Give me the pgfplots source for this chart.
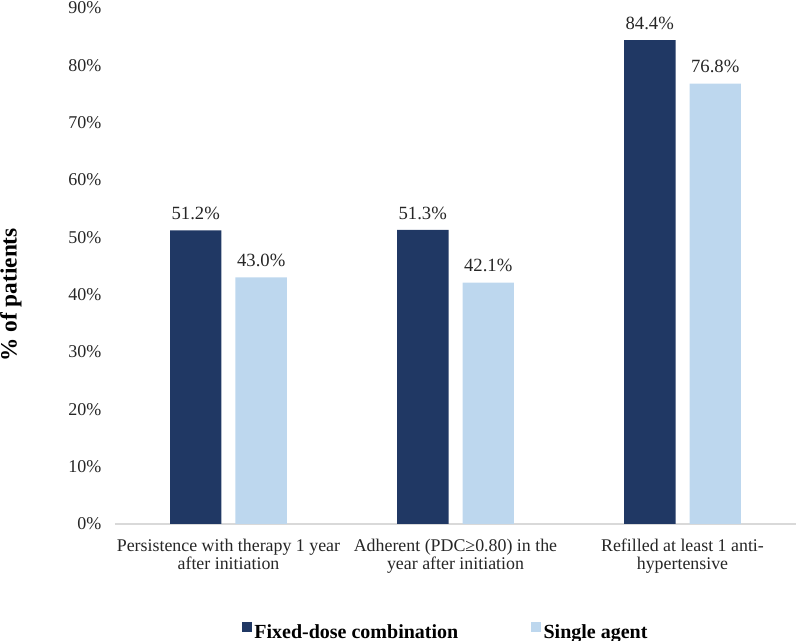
\documentclass[border=0pt]{standalone}
\usepackage{pgfplots}
\pgfplotsset{compat=1.18}
\usepackage{fontspec}
\setmainfont{Liberation Serif}
\definecolor{fdc}{HTML}{203864}
\definecolor{single}{HTML}{BDD7EE}
\definecolor{axisgray}{HTML}{D9D9D9}
\definecolor{txt}{HTML}{262626}

\begin{document}
\begin{tikzpicture}
\path[use as bounding box] (-86.25pt,-87.75pt) rectangle (511.5pt,393pt);
\begin{axis}[
    at={(0,0)}, anchor=south west,
    scale only axis,
    width=510.75pt, height=387pt,
    ybar=10.5pt, bar width=38.6pt,
    xmin=-0.5, xmax=2.5,
    ymin=0, ymax=90,
    xtick=data,
    xticklabels={{Persistence with therapy 1 year\\after initiation},
                 {Adherent (PDC≥0.80) in the\\year after initiation},
                 {Refilled at least 1 anti-\\hypertensive}},
    ytick={0,10,...,90},
    yticklabels={0\%,10\%,20\%,30\%,40\%,50\%,60\%,70\%,80\%,90\%},
    axis lines*=left,
    y axis line style={draw=none},
    x axis line style={axisgray, line width=1pt},
    major tick length=0pt,
    tick style={draw=none},
    xticklabel style={align=center, text=txt, font=\fontsize{13.4}{13.5}\selectfont, yshift=-8pt},
    yticklabel style={text=txt, font=\fontsize{13.5}{15}\selectfont, xshift=-6.75pt},
    ylabel={\% of patients},
    ylabel style={at={(axis description cs:-0.153,0.444)}, anchor=center,
                  font=\bfseries\fontsize{17.5}{19}\selectfont, text=black},
    nodes near coords={\pgfmathprintnumber[fixed,fixed zerofill,precision=1]{\pgfplotspointmeta}\%},
    nodes near coords style={font=\fontsize{14}{16}\selectfont, text=txt, anchor=south, yshift=4.3pt},
    /pgf/number format/assume math mode=true,
    legend columns=2,
    legend style={at={(0.486,-0.210)}, anchor=center, draw=none,
                  font=\bfseries\fontsize{15}{17}\selectfont, text=black,
                  /tikz/every even column/.append style={column sep=52.5pt}},
]
\addplot[fill=fdc, draw=none,
    legend image code/.code={\fill[fdc] (-3pt,0pt) rectangle (4.5pt,7.5pt);}]
    coordinates {(0,51.2) (1,51.3) (2,84.4)};
\addlegendentry{Fixed-dose combination}
\addplot[fill=single, draw=none,
    legend image code/.code={\fill[single] (-3pt,0pt) rectangle (4.5pt,7.5pt);}]
    coordinates {(0,43.0) (1,42.1) (2,76.8)};
\addlegendentry{Single agent}
\end{axis}
\end{tikzpicture}
\end{document}
